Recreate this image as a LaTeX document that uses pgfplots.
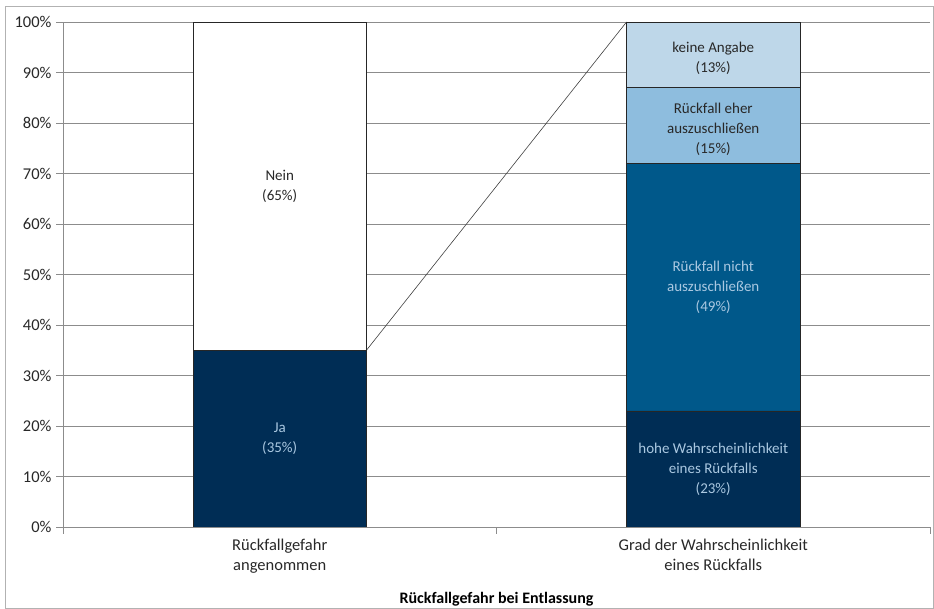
\documentclass[border=0pt]{standalone}
\usepackage{pgfplots}
\pgfplotsset{compat=1.18}
\usepackage{fontspec}
\setmainfont{Carlito}
\definecolor{navy}{RGB}{0,45,85}
\definecolor{midblue}{RGB}{0,88,138}
\definecolor{lightblue}{RGB}{142,189,222}
\definecolor{paleblue}{RGB}{190,215,233}
\definecolor{gridgray}{RGB}{140,140,140}
\definecolor{lbltext}{RGB}{170,200,225}
\definecolor{darktext}{RGB}{40,40,40}
\tikzset{lbl/.style={align=center, font=\fontsize{15}{20}\selectfont}}
\begin{document}
\begin{tikzpicture}[x=1pt,y=1pt]
\useasboundingbox (0,0) rectangle (934,609);
\draw[gray!60, line width=0.8pt] (5,1) rectangle (933,603);
\begin{axis}[
  at={(63pt,82pt)}, anchor=south west,
  scale only axis, width=867pt, height=505pt,
  xmin=0, xmax=2, ymin=0, ymax=100,
  ybar stacked, bar width=0.4,
  axis x line*=bottom, axis y line*=left,
  axis line style={gridgray, line width=0.6pt},
  ytick={0,10,...,100},
  yticklabel={\pgfmathprintnumber{\tick}\%},
  ymajorgrids, grid style={gridgray, line width=0.6pt},
  xtick={0,1,2}, xticklabels={,,},
  extra x ticks={0.5,1.5},
  extra x tick labels={{Rückfallgefahr\\angenommen},{Grad der Wahrscheinlichkeit\\eines Rückfalls}},
  extra x tick style={major tick length=0pt},
  tick align=outside, major tick length=7pt,
  tick style={gridgray, line width=0.6pt},
  every tick label/.append style={font=\fontsize{16.5}{20}\selectfont, text=darktext},
  every y tick label/.append style={xshift=-1pt},
  every x tick label/.append style={align=center, yshift=-9pt},
  xlabel={\textbf{Rückfallgefahr bei Entlassung}},
  every axis x label/.append style={font=\fontsize{16}{18}\selectfont, text=black, yshift=-5pt},
  /pgf/number format/assume math mode=true,
]
\addplot[fill=navy, draw=black!85, line width=0.6pt] coordinates {(0.5,35) (1.5,23)};
\addplot[fill=white, draw=black!85, line width=0.6pt] coordinates {(0.5,65) (1.5,0)};
\addplot[fill=midblue, draw=black!85, line width=0.6pt] coordinates {(0.5,0) (1.5,49)};
\addplot[fill=lightblue, draw=black!85, line width=0.6pt] coordinates {(0.5,0) (1.5,15)};
\addplot[fill=paleblue, draw=black!85, line width=0.6pt] coordinates {(0.5,0) (1.5,13)};
\draw[black!75, line width=0.6pt] (axis cs:0.7,35) -- (axis cs:1.3,100);
\coordinate (ja) at (axis cs:0.5,17.5);
\coordinate (nein) at (axis cs:0.5,67.5);
\coordinate (hohe) at (axis cs:1.5,11.5);
\coordinate (nicht) at (axis cs:1.5,47.5);
\coordinate (eher) at (axis cs:1.5,78.8);
\coordinate (keine) at (axis cs:1.5,92.8);
\end{axis}
\node[lbl, text=lbltext] at (ja) {Ja\\(35\%)};
\node[lbl, text=darktext] at (nein) {Nein\\(65\%)};
\node[lbl, text=lbltext] at (hohe) {hohe Wahrscheinlichkeit\\eines Rückfalls\\(23\%)};
\node[lbl, text=lbltext] at (nicht) {Rückfall nicht\\auszuschließen\\(49\%)};
\node[lbl, text=darktext] at (eher) {Rückfall eher\\auszuschließen\\(15\%)};
\node[lbl, text=darktext] at (keine) {keine Angabe\\(13\%)};
\end{tikzpicture}
\end{document}
